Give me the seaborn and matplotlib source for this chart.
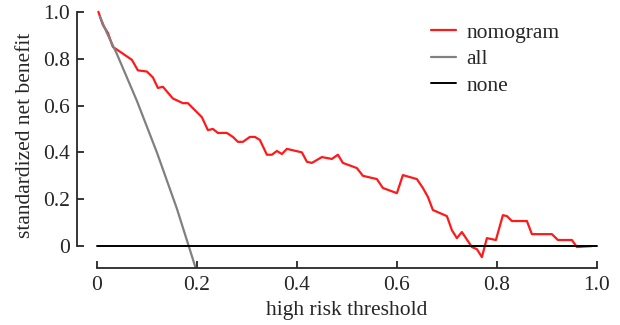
import numpy as np
import pandas as pd
import matplotlib
matplotlib.use('Agg')
import matplotlib.pyplot as plt
import seaborn as sns

_ = sns.set_style('ticks')
plt.rcParams['font.family'] = ['Liberation Serif', 'DejaVu Serif']

# nomogram decision curve
nomo_t = [0.003, 0.012, 0.022, 0.032, 0.046, 0.07, 0.082, 0.10, 0.112, 0.122, 0.132,
          0.152, 0.172, 0.182, 0.21, 0.222, 0.232, 0.242, 0.26, 0.272, 0.282, 0.292,
          0.306, 0.316, 0.326, 0.34, 0.35, 0.36, 0.37, 0.38, 0.41, 0.42, 0.43, 0.45,
          0.47, 0.482, 0.492, 0.52, 0.532, 0.56, 0.572, 0.60, 0.612, 0.64, 0.652,
          0.662, 0.672, 0.70, 0.71, 0.72, 0.73, 0.75, 0.76, 0.77, 0.78, 0.798,
          0.812, 0.82, 0.83, 0.86, 0.87, 0.91, 0.922, 0.95, 0.96, 0.99]
nomo_nb = [1.0, 0.944, 0.91, 0.85, 0.83, 0.795, 0.75, 0.745, 0.72, 0.675, 0.68,
           0.63, 0.61, 0.61, 0.55, 0.495, 0.50, 0.483, 0.483, 0.466, 0.445, 0.445,
           0.466, 0.466, 0.453, 0.39, 0.39, 0.406, 0.393, 0.415, 0.40, 0.36, 0.355, 0.38,
           0.372, 0.39, 0.355, 0.333, 0.30, 0.286, 0.248, 0.226, 0.303, 0.286, 0.248,
           0.21, 0.154, 0.128, 0.068, 0.034, 0.06, -0.004, -0.013, -0.047, 0.034, 0.026,
           0.132, 0.128, 0.107, 0.107, 0.051, 0.051, 0.026, 0.026, -0.004, 0.0]

# treat-all curve
all_t = [0.006, 0.02, 0.04, 0.06, 0.08, 0.10, 0.12, 0.14, 0.16, 0.18, 0.20]
all_nb = [0.98, 0.91, 0.82, 0.72, 0.62, 0.51, 0.40, 0.28, 0.16, 0.025, -0.11]

# treat-none
none_t = [0.0, 1.0]
none_nb = [0.0, 0.0]

fs = 15.5

fig = plt.figure(figsize=(6.2, 3.25), dpi=100)
ax = fig.add_axes([0.124, 0.175, 0.871, 0.819])

sns.lineplot(x=nomo_t, y=nomo_nb, color='#ff1a1a', lw=1.6, label='nomogram', ax=ax)
sns.lineplot(x=all_t, y=all_nb, color='#808080', lw=1.6, label='all', ax=ax)
sns.lineplot(x=none_t, y=none_nb, color='black', lw=1.4, label='none', ax=ax)

ax.set_xlim(-0.04, 1.04)
ax.set_ylim(-0.094, 1.042)
ax.set_xticks([0, 0.2, 0.4, 0.6, 0.8, 1.0])
ax.set_xticklabels(['0', '0.2', '0.4', '0.6', '0.8', '1.0'])
ax.set_yticks([0, 0.2, 0.4, 0.6, 0.8, 1.0])
ax.set_yticklabels(['0', '0.2', '0.4', '0.6', '0.8', '1.0'])
ax.spines['top'].set_visible(False)
ax.spines['right'].set_visible(False)
ax.spines['left'].set_bounds(0, 1)
ax.spines['bottom'].set_bounds(0, 1)
for s in ['left', 'bottom']:
    ax.spines[s].set_linewidth(1.3)
ax.tick_params(direction='in', length=5, width=1.3, labelsize=fs)
ax.tick_params(axis='x', pad=6)
ax.tick_params(axis='y', pad=5)
ax.set_xlabel('high risk threshold', fontsize=fs, labelpad=4)
ax.set_ylabel('standardized net benefit', fontsize=fs, labelpad=6)

leg = ax.legend(loc='upper left', bbox_to_anchor=(0.62, 0.995), frameon=False,
                fontsize=fs, handlelength=1.15, handletextpad=0.5, labelspacing=0.3)

fig.savefig('out.png', dpi=100)
